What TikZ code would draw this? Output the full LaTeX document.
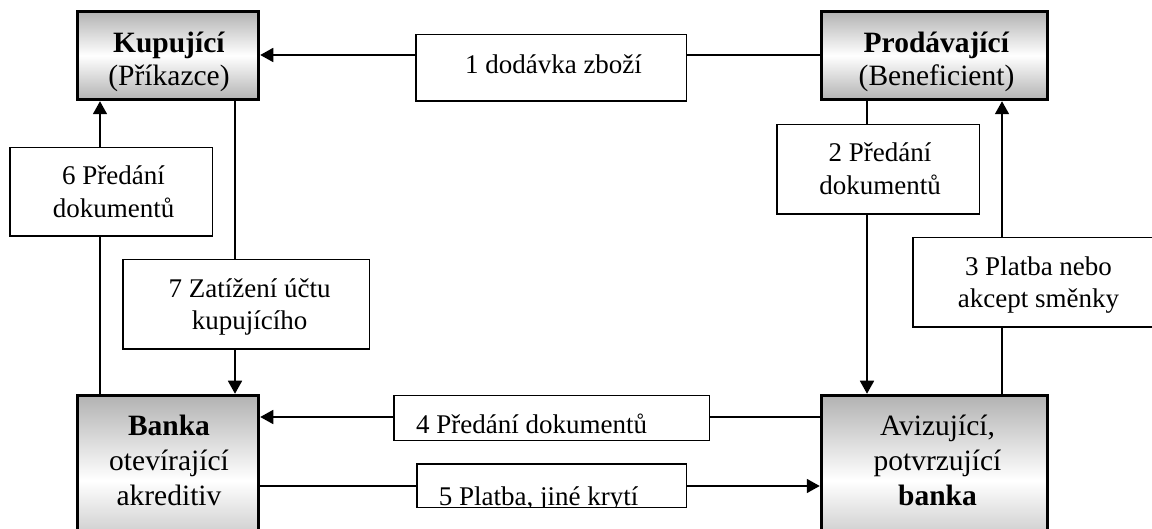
\documentclass[tikz,border=0pt]{standalone}
\usepackage{fontspec}
\setmainfont{Liberation Serif}
\usetikzlibrary{arrows.meta}
\begin{document}
\begin{tikzpicture}[x=0.5pt,y=-0.5pt,
  party/.style={draw=black, line width=1.75pt, rectangle, inner sep=0pt,
    top color=black!30, bottom color=black!30, middle color=white},
  lab/.style={draw=black, line width=0.75pt, fill=white, rectangle, inner sep=0pt, outer sep=0pt},
  htext/.style={font=\fontsize{14.75}{16.5}\selectfont, align=center, anchor=base, inner sep=0pt},
  btext/.style={font=\fontsize{14.75}{17.5}\selectfont, align=center, anchor=base, inner sep=0pt},
  ltext/.style={font=\fontsize{13.5}{16.5}\selectfont, align=center, anchor=base, inner sep=0pt},
  conn/.style={line width=0.85pt},
  arr/.style={conn, -{Triangle[length=6.5pt,width=7pt]}}]
\useasboundingbox (0,0) rectangle (1152,529);

% party boxes
\node[party, minimum width=90.5pt, minimum height=44pt] (kup) at (168,55.5) {};
\node[party, minimum width=113pt, minimum height=44pt] (prod) at (934.5,55.5) {};
\node[party, minimum width=90.5pt, minimum height=85pt] (banka) at (168,480.5) {};
\node[party, minimum width=113pt, minimum height=85pt] (aviz) at (934.5,480.5) {};

\node[htext] (kupt) at (169,86) {\textbf{Kupující}\\(Příkazce)};
\node[htext] (prodt) at (936.5,86) {\textbf{Prodávající}\\(Beneficient)};
\node[btext] (bankat) at (169,505) {\textbf{Banka}\\otevírající\\akreditiv};
\node[btext] (avizt) at (937.5,505.5) {Avizující,\\potvrzující\\\textbf{banka}};

% connector positions
\coordinate (c1) at (0,55);
\coordinate (c6) at (100,0);
\coordinate (c7) at (235,0);
\coordinate (c2) at (867,0);
\coordinate (c3) at (1002,0);
\coordinate (c4) at (0,417);
\coordinate (c5) at (0,486);

\draw[arr] (prod.west |- c1) -- (kup.east |- c1);
\draw[arr] (banka.north -| c6) -- (kup.south -| c6);
\draw[arr] (kup.south -| c7) -- (banka.north -| c7);
\draw[arr] (prod.south -| c2) -- (aviz.north -| c2);
\draw[arr] (aviz.north -| c3) -- (prod.south -| c3);
\draw[arr] (aviz.west |- c4) -- (banka.east |- c4);
\draw[arr] (banka.east |- c5) -- (aviz.west |- c5);

% label boxes
\node[lab, minimum width=135.25pt, minimum height=33.25pt] (l1) at (551,68) {};
\node[lab, minimum width=101.25pt, minimum height=44.75pt] (l2) at (878,169.5) {};
\node[lab, minimum width=125.25pt, minimum height=44.75pt] (l3) at (1038,282.5) {};
\node[lab, minimum width=157.75pt, minimum height=22.25pt] (l4) at (551.5,418) {};
\node[lab, minimum width=134.75pt, minimum height=21.75pt] (l5) at (551.5,485.5) {};
\node[lab, minimum width=101.25pt, minimum height=44.25pt] (l6) at (111,192) {};
\node[lab, minimum width=123.25pt, minimum height=44.75pt] (l7) at (246,304.5) {};

\node[ltext] (l1t) at (553.5,73.3) {1 dodávka zboží};
\node[ltext] (l2t) at (880,195) {2 Předání\\dokumentů};
\node[ltext] (l3t) at (1038.5,308) {3 Platba nebo\\akcept směnky};
\node[ltext] (l4t) at (531.5,433) {4 Předání dokumentů};
\begin{scope}
  \clip (l5.south west) rectangle (l5.north east);
  \node[ltext] (l5t) at (538.5,505) {5 Platba, jiné krytí};
\end{scope}
\draw[line width=0.75pt] (l5.south west) rectangle (l5.north east);
\node[ltext] (l6t) at (113.5,218) {6 Předání\\dokumentů};
\node[ltext] (l7t) at (249.5,330) {7 Zatížení účtu\\kupujícího};
\end{tikzpicture}
\end{document}
